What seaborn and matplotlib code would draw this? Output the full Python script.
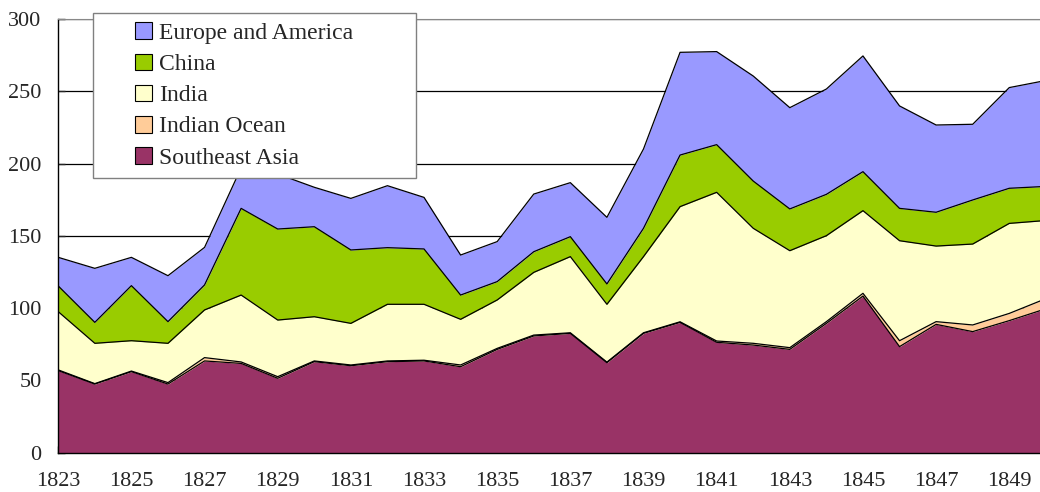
import matplotlib
matplotlib.use("Agg")
import matplotlib.pyplot as plt
import matplotlib.patches as mpatches
from matplotlib.legend_handler import HandlerPatch
import numpy as np
import pandas as pd
import seaborn as sns

# values (stacked, bottom to top)
years = list(range(1823, 1851))
southeast_asia = [56.8, 47.5, 56.1, 47.5, 63.5, 61.8, 51.5, 63.0, 60.2, 63.0, 63.5, 59.5, 71.5, 80.8,
                  82.6, 62.3, 82.6, 90.2, 76.4, 74.5, 71.5, 89.5, 108.4, 73.4, 88.8, 83.8, 91.4, 99.6]
indian_ocean = [0.5, 0.3, 0.4, 1.0, 2.3, 1.0, 1.1, 0.5, 0.5, 0.5, 0.5, 1.2, 0.7, 0.6,
                0.4, 0.4, 0.4, 0.4, 0.9, 1.2, 1.2, 1.2, 1.9, 4.1, 1.9, 4.6, 5.0, 7.0]
india = [40.3, 27.9, 21.0, 27.2, 33.0, 46.3, 39.2, 30.6, 28.8, 39.2, 38.7, 31.6, 33.5, 43.4,
         52.7, 40.0, 52.7, 79.7, 102.9, 79.6, 67.1, 59.5, 57.2, 69.2, 52.3, 56.0, 62.3, 54.1]
china = [17.8, 14.5, 38.1, 15.0, 17.3, 60.0, 63.0, 62.3, 50.8, 39.2, 38.3, 16.8, 12.7, 14.3,
         13.8, 14.1, 19.6, 35.7, 33.0, 32.7, 28.9, 28.6, 27.0, 22.4, 23.4, 30.5, 24.3, 23.6]
europe_america = [19.8, 37.4, 19.6, 31.8, 26.0, 28.0, 38.1, 27.3, 35.7, 42.9, 35.7, 27.7, 27.7, 39.9,
                  37.4, 46.1, 54.9, 71.1, 64.4, 72.7, 70.1, 72.9, 80.1, 70.9, 60.4, 52.4, 69.7, 73.3]

labels = ["Southeast Asia", "Indian Ocean", "India", "China", "Europe and America"]
colors = ["#993366", "#FFCC99", "#FFFFCC", "#99CC00", "#9999FF"]

sns.set_style("white")
plt.rcParams["font.family"] = ["Liberation Serif", "DejaVu Serif"]

series = [southeast_asia, indian_ocean, india, china, europe_america]
cum = np.cumsum(np.array(series), axis=0)
df = pd.DataFrame({lab: cum[i] for i, lab in enumerate(labels)})
df["year"] = years
long_df = df.melt(id_vars="year", var_name="series", value_name="value")

fig = plt.figure(figsize=(10.4, 4.92), dpi=100)
ax = fig.add_axes([0.056, 0.0799, 0.944, 0.881])

ax.stackplot(years, *series, colors=colors, linewidth=0, zorder=2)
sns.lineplot(data=long_df, x="year", y="value", hue="series", palette=["black"] * 5,
             legend=False, linewidth=0.9, ax=ax, zorder=3)

ax.set_xlim(1823, 1849.84)
ax.set_ylim(0, 300)
ax.set_yticks(range(0, 301, 50))
ax.set_xticks(range(1823, 1850, 2))
ax.set_xticks(range(1824, 1850, 2), minor=True)
ax.set_xlabel("")
ax.set_ylabel("")
ax.yaxis.grid(True, color="black", linewidth=0.9, zorder=0)
ax.set_axisbelow(True)
ax.tick_params(axis="y", direction="in", length=5, width=1, pad=12, labelsize=16, left=True)
ax.tick_params(axis="x", which="both", direction="in", length=5, width=1, pad=14, labelsize=16, bottom=True)
for side in ["left", "bottom"]:
    ax.spines[side].set_color("black")
    ax.spines[side].set_linewidth(1)
ax.spines["top"].set_color("#888888")
ax.spines["right"].set_visible(False)


def square_patch(legend, orig_handle, xdescent, ydescent, width, height, fontsize):
    return mpatches.Rectangle((width - height - xdescent, -ydescent), height, height)


handles = [mpatches.Patch(facecolor=c, edgecolor="black", linewidth=0.8, label=l)
           for c, l in zip(colors, labels)][::-1]
leg = ax.legend(handles=handles, loc="upper left", mode="expand",
                bbox_to_anchor=(0.0894, 0.6504, 0.3106, 0.3232), bbox_transform=fig.transFigure,
                fontsize=17, frameon=True, fancybox=False, framealpha=1, edgecolor="#808080",
                borderpad=0.4, labelspacing=0.4, handlelength=2.08, handleheight=0.72,
                handletextpad=0.3, borderaxespad=0,
                handler_map={mpatches.Patch: HandlerPatch(patch_func=square_patch)})
leg.get_frame().set_linewidth(1)
leg.set_zorder(5)

fig.savefig("out.png", dpi=100)
